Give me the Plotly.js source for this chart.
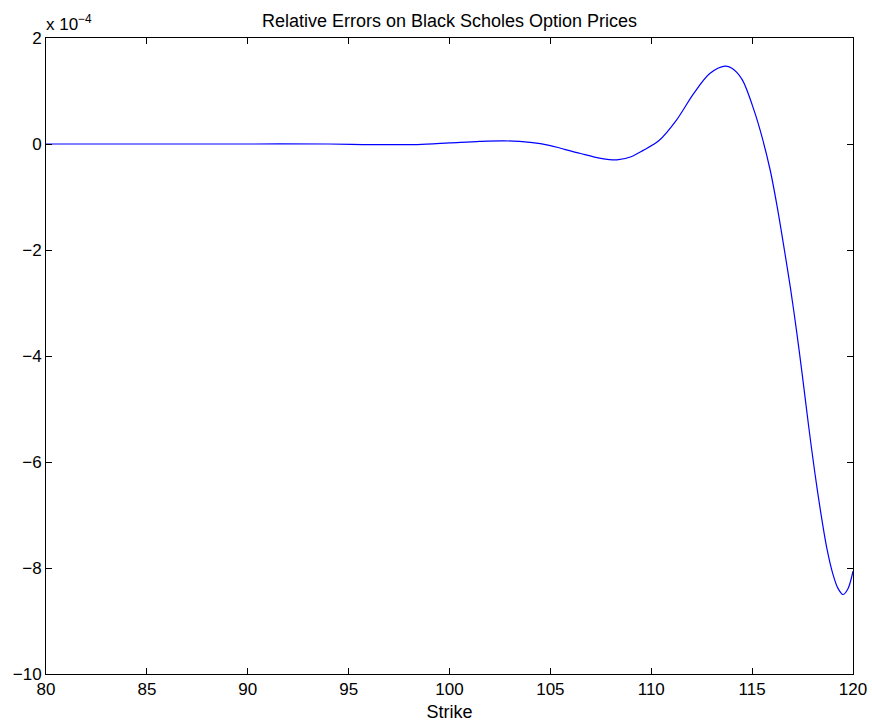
<!DOCTYPE html>
<html>
<head>
<meta charset="utf-8">
<script src="https://cdn.plot.ly/plotly-3.0.1.min.js"></script>
<style>
  html, body { margin: 0; padding: 0; background: #fff; }
  #chart { width: 872px; height: 724px; }
</style>
</head>
<body>
<div id="chart"></div>
<script>
// Strike grid and relative pricing error (in units of 1e-4)
const strike = [80, 85, 90, 94, 95.7, 98.4, 100, 101.5, 102.7, 104, 105, 105.5, 106.5, 107.5, 108.3,
  109, 109.6, 110.4, 111.25, 112.1, 112.9, 113.65, 114.0, 114.5, 115.1, 115.5, 115.9, 116.25, 116.6,
  116.9, 117.2, 117.5, 117.8, 118.1, 118.4, 118.7, 119.0, 119.25, 119.5, 119.75, 120];
const relErr = [0, 0, 0, 0, -0.01, -0.01, 0.02, 0.05, 0.06, 0.03, -0.03, -0.08, -0.18, -0.27, -0.30,
  -0.24, -0.12, 0.07, 0.45, 0.95, 1.33, 1.47, 1.43, 1.22, 0.63, 0.12, -0.50, -1.20, -2.00,
  -2.72, -3.52, -4.40, -5.32, -6.18, -6.95, -7.62, -8.11, -8.38, -8.50, -8.39, -8.06];

const xTicks = [80, 85, 90, 95, 100, 105, 110, 115, 120];
const yTicks = [2, 0, -2, -4, -6, -8, -10];
const yTickText = ['2', '0', '\u22122', '\u22124', '\u22126', '\u22128', '\u221210'];

const family = 'Liberation Sans, Arial, Helvetica, sans-serif';
const tickFont = { family: family, size: 17, color: '#000' };
const labelFont = { family: family, size: 18, color: '#000' };

const trace = {
  x: strike,
  y: relErr,
  type: 'scatter',
  mode: 'lines',
  line: { color: '#0000ff', width: 1.2, shape: 'spline', smoothing: 0.9 },
  hoverinfo: 'x+y'
};

const axisCommon = {
  showgrid: false,
  zeroline: false,
  showline: true,
  linecolor: '#000',
  linewidth: 1,
  mirror: 'ticks',
  ticks: 'inside',
  ticklen: 6,
  tickcolor: '#000',
  tickfont: tickFont
};

const layout = {
  width: 872,
  height: 724,
  margin: { l: 46, r: 19, t: 38, b: 50 },
  paper_bgcolor: '#fff',
  plot_bgcolor: '#fff',
  font: tickFont,
  showlegend: false,
  title: {
    text: 'Relative Errors on Black Scholes Option Prices',
    font: labelFont,
    x: 0.5, xref: 'paper',
    y: 1 - 21 / 724, yref: 'container', yanchor: 'middle'
  },
  xaxis: Object.assign({}, axisCommon, {
    range: [80, 120],
    tickvals: xTicks,
    ticktext: xTicks.map(String),
    title: { text: 'Strike', font: labelFont, standoff: 6 }
  }),
  yaxis: Object.assign({}, axisCommon, {
    range: [-10, 2],
    tickvals: yTicks,
    ticktext: yTickText
  }),
  annotations: [{
    text: 'x 10<sup>\u22124</sup>',
    xref: 'paper', yref: 'paper',
    x: 0, y: 1,
    xanchor: 'left', yanchor: 'bottom',
    xshift: -2, yshift: 2,
    showarrow: false,
    font: tickFont
  }]
};

Plotly.newPlot('chart', [trace], layout, { displayModeBar: false, staticPlot: true });
</script>
</body>
</html>
